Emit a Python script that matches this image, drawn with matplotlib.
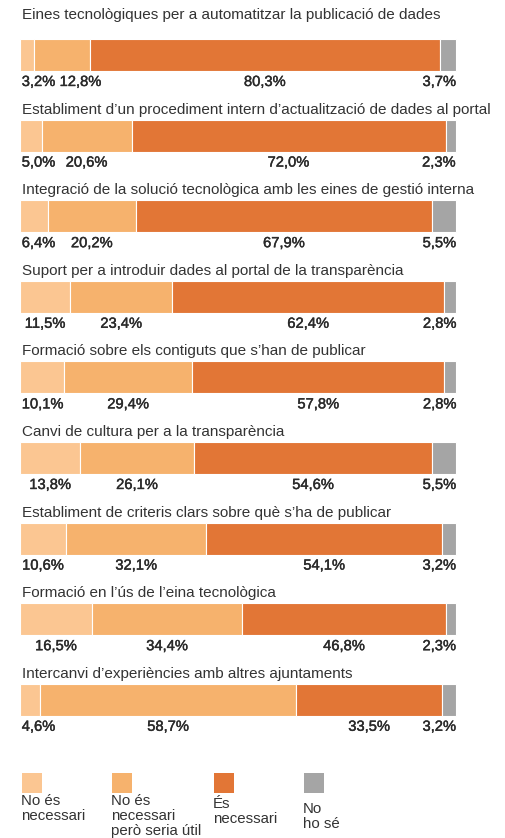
import matplotlib
matplotlib.use('Agg')
import matplotlib.pyplot as plt
import matplotlib.patheffects as pe
import numpy as np

# dades de l'enquesta
temes = [
    "Eines tecnològiques per a automatitzar la publicació de dades",
    "Establiment d’un procediment intern d’actualització de dades al portal",
    "Integració de la solució tecnològica amb les eines de gestió interna",
    "Suport per a introduir dades al portal de la transparència",
    "Formació sobre els contiguts que s’han de publicar",
    "Canvi de cultura per a la transparència",
    "Establiment de criteris clars sobre què s’ha de publicar",
    "Formació en l’ús de l’eina tecnològica",
    "Intercanvi d’experiències amb altres ajuntaments",
]
no_necessari = [3.2, 5.0, 6.4, 11.5, 10.1, 13.8, 10.6, 16.5, 4.6]
util = [12.8, 20.6, 20.2, 23.4, 29.4, 26.1, 32.1, 34.4, 58.7]
necessari = [80.3, 72.0, 67.9, 62.4, 57.8, 54.6, 54.1, 46.8, 33.5]
no_ho_se = [3.7, 2.3, 5.5, 2.8, 2.8, 5.5, 3.2, 2.3, 3.2]

categories = ["No és\nnecessari", "No és\nnecessari\nperò seria útil", "És\nnecessari", "No\nho sé"]
colors = ['#FBC692', '#F6B26D', '#E27636', '#A5A5A5']

W, H = 505, 838
px_x = 4.36       # pixels per percentage point
x0 = 20           # left edge of bars in px
pitch = 80.6      # px between rows
yc0 = 55          # centre of first bar in px

fig = plt.figure(figsize=(W / 100, H / 100), dpi=100)
ax = fig.add_axes([0, 0, 1, 1])
ax.set_xlim(-x0 / px_x, (W - x0) / px_x)
ax.set_ylim((H - yc0) / pitch, -yc0 / pitch)
ax.axis('off')

font = 'Liberation Sans'
txt_col = '#333333'
bold_fx = [pe.withStroke(linewidth=0.3, foreground='#2a2a2a')]

series = np.array([no_necessari, util, necessari, no_ho_se])
n = len(temes)
rows = np.arange(n)
left = np.zeros(n)
for k in range(4):
    ax.barh(rows, series[k], left=left, height=32 / pitch, color=colors[k],
            edgecolor='white', linewidth=0.8)
    left += series[k]

fig.canvas.draw()
rend = fig.canvas.get_renderer()

for i in rows:
    dy = 36.5 if i == 0 else 22
    ax.text(1.5 / px_x, i - dy / pitch, temes[i], fontsize=11.0, family=font, color=txt_col,
            ha='left', va='baseline')

    vals = series[:, i]
    starts = np.concatenate([[0], np.cumsum(vals)[:-1]])
    total = vals.sum()
    prev_right = None
    for k in range(4):
        s = f"{vals[k]:.1f}%".replace('.', ',')
        t = ax.text(starts[k] + vals[k] / 2, i + 31 / pitch, s, fontsize=10.6, family=font,
                    color='#2a2a2a', ha='center', va='baseline', path_effects=bold_fx)
        bb = t.get_window_extent(rend)
        w = (bb.x1 - bb.x0) / px_x
        c = starts[k] + vals[k] / 2
        c = max(c, 0.4 + w / 2)
        c = min(c, total - w / 2)
        if prev_right is not None and c - w / 2 < prev_right + 1.0:
            c = prev_right + 1.0 + w / 2
        t.set_x(c)
        prev_right = c + w / 2

# llegenda
leg_x = [22, 112, 214, 304]
leg_dy = [0, 0, 3, 8]
for k in range(4):
    xl = (leg_x[k] - x0) / px_x
    yt = (773 - yc0) / pitch
    ax.add_patch(plt.Rectangle((xl, yt), 20 / px_x, 20 / pitch, color=colors[k], lw=0))
    ax.text(xl - 1 / px_x, (794 + leg_dy[k] - yc0) / pitch, categories[k], fontsize=10.8, family=font,
            color=txt_col, ha='left', va='top', linespacing=1.07)

fig.savefig('out.png', dpi=100)
